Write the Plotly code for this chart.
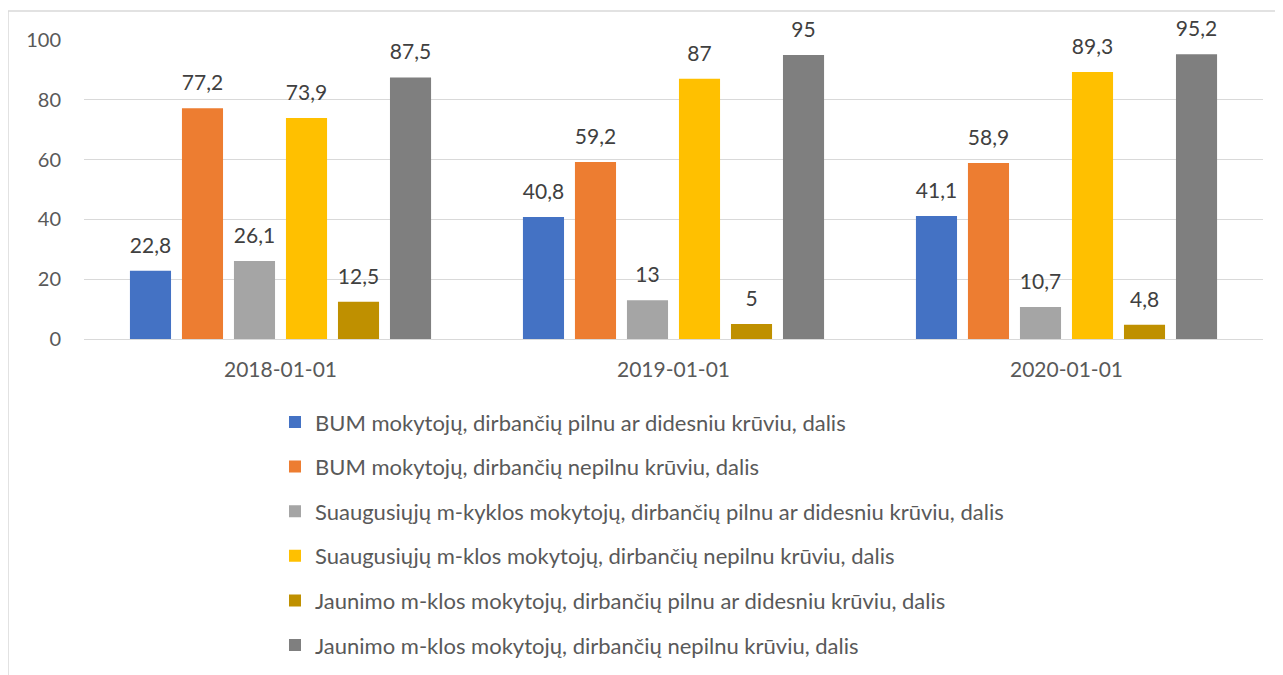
import plotly.graph_objects as go

categories = ["2018-01-01", "2019-01-01", "2020-01-01"]
series_names = [
    "BUM mokytojų, dirbančių pilnu ar didesniu krūviu, dalis",
    "BUM mokytojų, dirbančių nepilnu krūviu, dalis",
    "Suaugusiųjų m-kyklos mokytojų, dirbančių pilnu ar didesniu krūviu, dalis",
    "Suaugusiųjų m-klos mokytojų, dirbančių nepilnu krūviu, dalis",
    "Jaunimo m-klos mokytojų, dirbančių pilnu ar didesniu krūviu, dalis",
    "Jaunimo m-klos mokytojų, dirbančių nepilnu krūviu, dalis",
]
bum_full = [22.8, 40.8, 41.1]
bum_part = [77.2, 59.2, 58.9]
adult_full = [26.1, 13, 10.7]
adult_part = [73.9, 87, 89.3]
youth_full = [12.5, 5, 4.8]
youth_part = [87.5, 95, 95.2]
y_ticks = [0, 20, 40, 60, 80, 100]

series_values = [bum_full, bum_part, adult_full, adult_part, youth_full, youth_part]
colors = ["#4472C4", "#ED7D31", "#A5A5A5", "#FFC000", "#BF9000", "#7F7F7F"]

FONT = "Lato, Carlito, Calibri, sans-serif"

fig = go.Figure()
for i, (name, vals, col) in enumerate(zip(series_names, series_values, colors)):
    labels = ["<span style='font-size:21px'>" + f"{v:g}".replace(".", ",") + "</span><br> "
              for v in vals]
    fig.add_trace(go.Bar(
        x=categories, y=vals, name=name, marker_color=col,
        marker_line_width=0,
        text=labels, textposition="outside", cliponaxis=False, constraintext="none",
        textfont=dict(size=10, color="#404040", family=FONT),
        legendgroup=f"g{i}",
    ))

fig.update_layout(
    width=1283, height=675,
    margin=dict(l=76, r=28, t=32, b=344, autoexpand=False),
    paper_bgcolor="white", plot_bgcolor="white",
    barmode="group", bargap=0.206, bargroupgap=0.21,
    font=dict(family=FONT, color="#595959", size=20),
    showlegend=True,
    legend=dict(
        orientation="v", x=0.162, xanchor="left", y=-0.208, yanchor="top",
        traceorder="grouped", tracegroupgap=13,
        font=dict(size=22, color="#595959", family=FONT),
        itemwidth=30, bgcolor="rgba(0,0,0,0)",
    ),
    yaxis=dict(
        range=[0, 100], tickvals=y_ticks, showgrid=True, gridcolor="#D9D9D9",
        gridwidth=1, zeroline=True, zerolinecolor="#D9D9D9", zerolinewidth=1,
        showline=False, ticks="outside", ticklen=18, tickcolor="rgba(0,0,0,0)",
        tickfont=dict(size=20, color="#595959"), automargin=False,
    ),
    xaxis=dict(
        type="category", showline=False, showgrid=False,
        ticks="outside", ticklen=12, tickcolor="rgba(0,0,0,0)",
        tickfont=dict(size=21, color="#595959"), automargin=False,
    ),
    shapes=[dict(
        type="rect", xref="paper", yref="paper",
        x0=(8 - 84) / 1179, x1=1.2, y0=-1.5, y1=1 + (40 - 11) / 299,
        line=dict(color="#D9D9D9", width=1.5), fillcolor="rgba(0,0,0,0)", layer="below",
    )],
)

fig.write_html("out.html")
